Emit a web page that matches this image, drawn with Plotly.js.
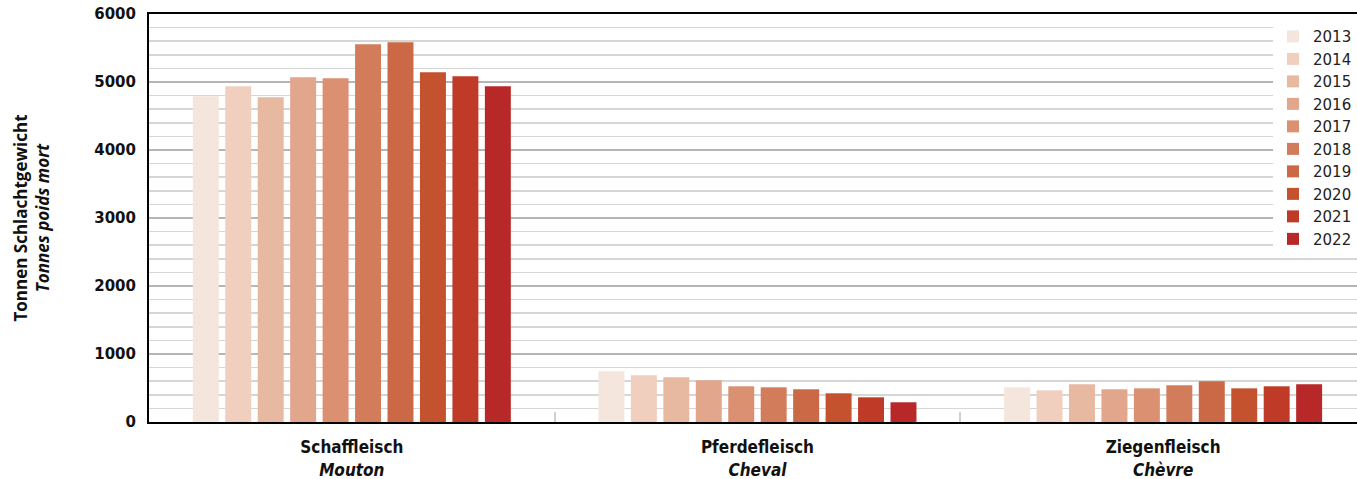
<!DOCTYPE html>
<html>
<head>
<meta charset="utf-8">
<script src="https://cdn.plot.ly/plotly-3.0.1.min.js"></script>
<style>html,body{margin:0;padding:0;background:#fff;}#chart{width:1357px;height:479px;}</style>
</head>
<body>
<div id="chart"></div>
<script>
const categories = ["Schaffleisch<br><i>Mouton</i>", "Pferdefleisch<br><i>Cheval</i>", "Ziegenfleisch<br><i>Chèvre</i>"];
const years = ["2013","2014","2015","2016","2017","2018","2019","2020","2021","2022"];
const v2013 = [4790, 746, 510];
const v2014 = [4937, 687, 466];
const v2015 = [4775, 657, 554];
const v2016 = [5069, 613, 481];
const v2017 = [5054, 525, 495];
const v2018 = [5554, 510, 540];
const v2019 = [5584, 481, 598];
const v2020 = [5143, 422, 495];
const v2021 = [5084, 363, 525];
const v2022 = [4937, 290, 554];
const seriesValues = [v2013, v2014, v2015, v2016, v2017, v2018, v2019, v2020, v2021, v2022];
const colors = ["#f4e6dc","#f0cfbf","#e8b9a1","#e2a68c","#db9071","#d37c5c","#cb6845","#c5522f","#bf3b28","#b82828"];

const traces = years.map((y, i) => ({
  type: "bar",
  name: y,
  x: categories,
  y: seriesValues[i],
  marker: {color: colors[i], line: {width: 0}},
  hoverinfo: "x+y+name"
}));

const layout = {
  width: 1357, height: 479,
  margin: {l: 149, r: 0, t: 14, b: 57, pad: 0},
  paper_bgcolor: "#fff", plot_bgcolor: "#fff",
  barmode: "group", bargap: 0.2, bargroupgap: 0.2,
  font: {family: "'DejaVu Sans', sans-serif", color: "#111"},
  showlegend: true,
  legend: {x: 1, xanchor: "right", y: 0.985, yanchor: "top", bgcolor: "#fff",
           font: {family: "'DejaVu Sans', sans-serif", size: 15, color: "#222"},
           tracegroupgap: 0, itemwidth: 30},
  xaxis: {
    type: "category", range: [-0.5, 2.478],
    showline: true, linecolor: "#000", linewidth: 2, mirror: true,
    ticks: "inside", tickson: "boundaries", ticklen: 10, tickcolor: "#d0d0d0", tickwidth: 2,
    ticklabelstandoff: 9,
    tickfont: {family: "'Liberation Sans Narrow', 'DejaVu Sans Condensed', sans-serif", size: 17, color: "#111", weight: "bold"},
    showgrid: false, fixedrange: true
  },
  yaxis: {
    range: [0, 6000], dtick: 1000, tick0: 0,
    showline: true, linecolor: "#000", linewidth: 2,
    ticks: "", ticklabelstandoff: 8,
    tickfont: {family: "'DejaVu Sans', sans-serif", size: 15, color: "#111", weight: "bold"},
    showgrid: true, gridcolor: "#b5b5b5", gridwidth: 2,
    minor: {dtick: 200, showgrid: true, gridcolor: "#d6d6d6", gridwidth: 1.5},
    zeroline: false,
    title: {text: "Tonnen Schlachtgewicht<br><i>Tonnes poids mort</i>",
            font: {family: "'Open Sans', sans-serif", size: 17, color: "#111", weight: "bold"}, standoff: 40},
    fixedrange: true
  }
};

Plotly.newPlot("chart", traces, layout, {displayModeBar: false, staticPlot: true});
</script>
</body>
</html>
